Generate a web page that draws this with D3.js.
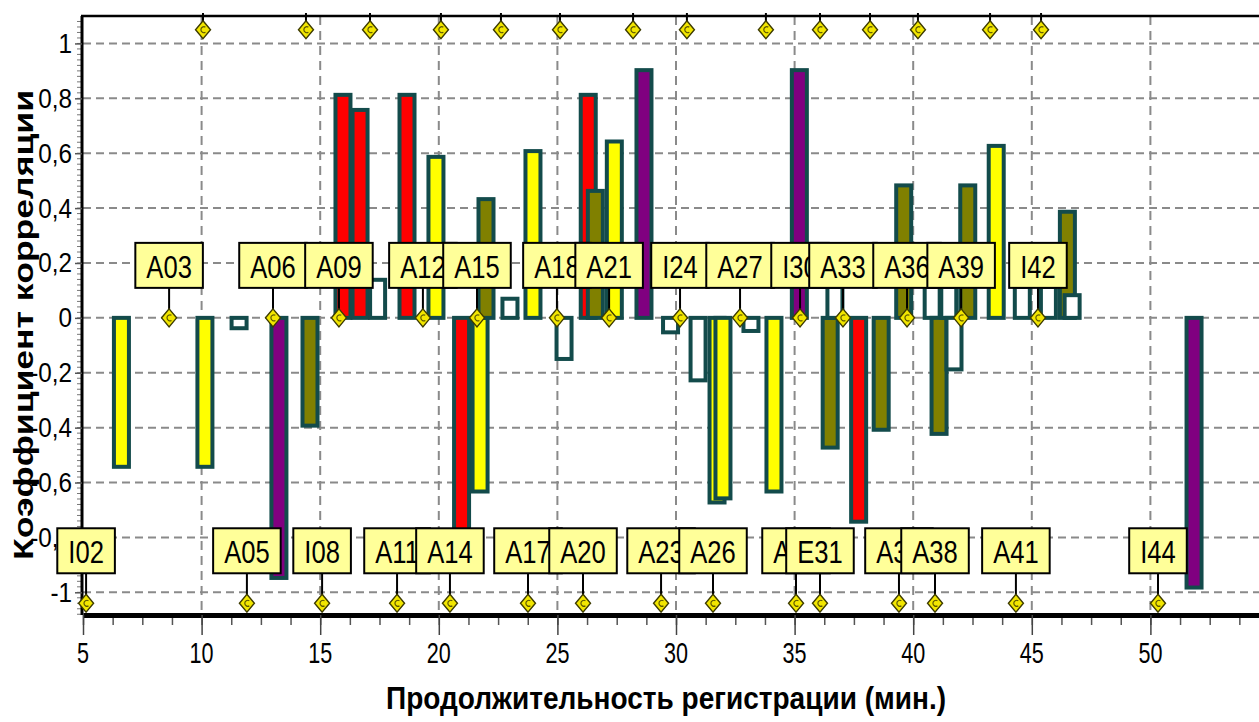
<!DOCTYPE html>
<html><head><meta charset="utf-8">
<script src="https://cdn.jsdelivr.net/npm/d3@7"></script>
<style>html,body{margin:0;padding:0;background:#fff;overflow:hidden}</style>
</head><body><svg id="chart" width="1259" height="722"></svg>
<script>
// ---------- data ----------
const xMajorTicks = [5, 10, 15, 20, 25, 30, 35, 40, 45, 50, 55];
const xTickLabelValues = [5, 10, 15, 20, 25, 30, 35, 40, 45, 50];
const yTicks = [-1, -0.8, -0.6, -0.4, -0.2, 0, 0.2, 0.4, 0.6, 0.8, 1];
const yTickLabels = ["-1", "-0,8", "-0,6", "-0,4", "-0,2", "0", "0,2", "0,4", "0,6", "0,8", "1"];

// bars: centre (minutes), correlation coefficient, colour group
const barMinutes = [6.62, 10.14, 11.58, 13.26, 14.57, 15.96, 16.68, 17.42, 18.66, 19.88,
  20.96, 21.74, 21.99, 23.0, 23.97, 25.28, 26.3, 26.6, 27.4, 28.65,
  29.77, 30.93, 31.73, 31.98, 33.16, 34.13, 35.2, 36.5, 36.7, 37.7,
  38.65, 39.6, 40.8, 41.09, 41.5, 41.72, 42.3, 43.5, 44.6, 45.7,
  46.5, 46.7, 51.84];
const barValues = [-0.55, -0.55, -0.045, -0.955, -0.40, 0.82, 0.765, 0.146, 0.82, 0.594,
  -0.93, -0.64, 0.44, 0.077, 0.615, -0.157, 0.82, 0.47, 0.65, 0.91,
  -0.06, -0.235, -0.68, -0.665, -0.055, -0.64, 0.91, -0.48, 0.12, -0.75,
  -0.415, 0.49, 0.12, -0.43, 0.12, -0.195, 0.49, 0.634, 0.12, 0.12,
  0.394, 0.09, -0.99];
const barGroups = ["Y", "Y", "W", "P", "O", "R", "R", "W", "R", "Y",
  "R", "Y", "O", "W", "Y", "W", "R", "O", "Y", "P",
  "W", "W", "Y", "Y", "W", "Y", "P", "O", "W", "R",
  "O", "O", "W", "O", "W", "W", "O", "Y", "W", "W",
  "O", "W", "P"];
const groupColors = { R: "#ff0000", Y: "#ffff00", O: "#808000", P: "#800080", W: "#ffffff" };

// event markers
const topMarkerMinutes = [10.06, 14.40, 17.10, 20.09, 22.62, 25.11, 28.19, 30.46, 33.79, 36.07, 38.18, 40.20, 43.24, 45.39];
const midLabels = ["A03", "A06", "A09", "A12", "A15", "A18", "A21", "I24", "A27", "I30", "A33", "A36", "A39", "I42"];
const midMinutes = [8.63, 13.01, 15.79, 19.33, 21.61, 24.98, 27.18, 30.17, 32.70, 35.23, 37.04, 39.74, 42.02, 45.26];
const botLabels = ["I02", "A05", "I08", "A11", "A14", "A17", "A20", "A23", "A26", "A29", "E31", "A35", "A38", "A41", "I44"];
const botMinutes = [5.13, 11.91, 15.08, 18.24, 20.47, 23.76, 26.08, 29.37, 31.56, 35.06, 36.07, 39.40, 40.92, 44.33, 50.32];
const markerLevels = { top: 1.05, mid: 0, bot: -1.04 };

const xTitle = "Продолжительность регистрации (мин.)";
const yTitle = "Коэффициент корреляции";

// ---------- drawing ----------
const svg = d3.select("#chart");
const FONT = "'Liberation Sans', Arial, sans-serif";
const x = d3.scaleLinear().domain([5, 55]).range([83, 1269]);
const y = d3.scaleLinear().domain([-1.09, 1.1]).range([617, 16]);
const axisY = 615;

svg.append("defs").append("clipPath").attr("id", "clipTop")
  .append("rect").attr("x", 0).attr("y", 13).attr("width", 1300).attr("height", 700);

// grid
const grid = svg.append("g");
grid.selectAll(".hg").data(yTicks).join("line")
  .attr("x1", x(5)).attr("x2", x(55)).attr("y1", d => y(d)).attr("y2", d => y(d))
  .attr("stroke", "#8a8a8a").attr("stroke-width", 2).attr("stroke-dasharray", "8,5");
grid.selectAll(".vg").data(xMajorTicks.filter(d => d > 5)).join("line")
  .attr("x1", d => x(d)).attr("x2", d => x(d)).attr("y1", y(1.1)).attr("y2", axisY)
  .attr("stroke", "#8a8a8a").attr("stroke-width", 2).attr("stroke-dasharray", "9,6");

// bars
const bars = barMinutes.map((m, i) => ({ m, v: barValues[i], g: barGroups[i] }));
const BW = 15, SW = 4;
svg.append("g").selectAll("rect").data(bars).join("rect")
  .attr("x", d => x(d.m) - BW / 2)
  .attr("y", d => d.v >= 0 ? y(d.v) + SW / 2 : y(0))
  .attr("width", BW)
  .attr("height", d => Math.abs(y(d.v) - y(0)) - SW / 2)
  .attr("fill", d => groupColors[d.g])
  .attr("stroke", "#134b4b").attr("stroke-width", SW);

// axes
const minorTicks = d3.range(5, 55.01, 1.25);
const gMinor = svg.append("g").attr("transform", `translate(0,${axisY})`)
  .call(d3.axisBottom(x).tickValues(minorTicks).tickSize(10).tickSizeOuter(0).tickFormat(() => ""));
gMinor.select(".domain").remove();
gMinor.selectAll("text").remove();
gMinor.selectAll("line").attr("stroke", "#555").attr("stroke-width", 1.5);

const gx = svg.append("g").attr("transform", `translate(0,${axisY})`)
  .call(d3.axisBottom(x).tickValues(xMajorTicks).tickSize(20).tickSizeOuter(0).tickFormat(() => ""));
gx.selectAll("text").remove();
gx.select(".domain").attr("stroke", "#000").attr("stroke-width", 5);
gx.selectAll(".tick line").attr("stroke", "#444").attr("stroke-width", 1.5);

// x tick labels (own text elements, condensed)
svg.append("g").selectAll("text").data(xTickLabelValues).join("text")
  .attr("transform", d => `translate(${x(d)},${axisY + 48}) scale(0.72,1)`)
  .attr("text-anchor", "middle")
  .attr("font-family", FONT).attr("font-size", 30).attr("fill", "#000")
  .text(d => d);

// left minor ticks
svg.append("g").selectAll("line").data(d3.range(-1.08, 1.1, 0.02)).join("line")
  .attr("x1", 77).attr("x2", 82).attr("y1", d => y(d)).attr("y2", d => y(d))
  .attr("stroke", "#777").attr("stroke-width", 1);

const gy = svg.append("g").attr("transform", `translate(82,0)`)
  .call(d3.axisLeft(y).tickValues(yTicks).tickSize(7).tickSizeOuter(0).tickFormat(() => ""));
gy.selectAll("text").remove();
gy.select(".domain").attr("stroke", "#000").attr("stroke-width", 3)
  .attr("d", `M0,${y(1.1)}V${axisY}`);
gy.selectAll(".tick line").attr("stroke", "#555").attr("stroke-width", 1.5);

svg.append("g").selectAll("text").data(yTicks).join("text")
  .attr("transform", d => `translate(72,${y(d) + 9.5}) scale(0.9,1)`)
  .attr("text-anchor", "end")
  .attr("font-family", FONT).attr("font-size", 27).attr("fill", "#000")
  .text((d, i) => yTickLabels[i]);

// top frame line
svg.append("line").attr("x1", 81).attr("x2", 1269).attr("y1", 16).attr("y2", 16)
  .attr("stroke", "#000").attr("stroke-width", 2.5);

// markers
function diamond(g, cx, cy) {
  g.append("path").attr("transform", `translate(${cx},${cy})`)
    .attr("d", "M0,-9L7.5,0L0,9L-7.5,0Z")
    .attr("fill", "#f2e600").attr("stroke", "#3d3b00").attr("stroke-width", 1.4);
  g.append("path").attr("transform", `translate(${cx},${cy})`)
    .attr("d", "M2.4,-2.6A3,3 0 1 0 2.4,2.6")
    .attr("fill", "none").attr("stroke", "#5e5800").attr("stroke-width", 1.2);
}
const ann = svg.append("g").attr("clip-path", "url(#clipTop)");

// top row: only connectors and diamonds are inside the frame
topMarkerMinutes.forEach(m => {
  const cy = y(markerLevels.top);
  ann.append("line").attr("x1", x(m)).attr("x2", x(m)).attr("y1", 0).attr("y2", cy - 7)
    .attr("stroke", "#000").attr("stroke-width", 2);
  diamond(ann, x(m), cy);
});

function labelRow(names, mins, level) {
  const cy = y(level);
  const boxBottom = cy - 30, boxH = 45, boxTop = boxBottom - boxH;
  names.forEach((name, i) => {
    const cx = x(mins[i]);
    const g = ann.append("g");
    g.append("line").attr("x1", cx).attr("x2", cx).attr("y1", boxBottom).attr("y2", cy - 7)
      .attr("stroke", "#000").attr("stroke-width", 2);
    diamond(g, cx, cy);
    const rect = g.append("rect").attr("y", boxTop).attr("height", boxH)
      .attr("fill", "#ffff99").attr("stroke", "#000").attr("stroke-width", 2);
    const t = g.append("text").attr("text-anchor", "middle")
      .attr("transform", `translate(${cx},${boxTop + 35}) scale(0.8,1)`)
      .attr("font-family", FONT).attr("font-size", 32).attr("fill", "#000").text(name);
    const w = t.node().getComputedTextLength() * 0.8 + 22;
    rect.attr("x", cx - w / 2).attr("width", w);
  });
}
labelRow(midLabels, midMinutes, markerLevels.mid);
labelRow(botLabels, botMinutes, markerLevels.bot);

// titles
svg.append("text").attr("x", 386).attr("y", 709)
  .attr("font-family", FONT).attr("font-weight", "bold").attr("font-size", 32)
  .attr("textLength", 560).attr("lengthAdjust", "spacingAndGlyphs").text(xTitle);
svg.append("text").attr("transform", "translate(33,560) rotate(-90)")
  .attr("font-family", FONT).attr("font-weight", "bold").attr("font-size", 27)
  .attr("textLength", 470).attr("lengthAdjust", "spacingAndGlyphs").text(yTitle);
</script>
</body></html>
